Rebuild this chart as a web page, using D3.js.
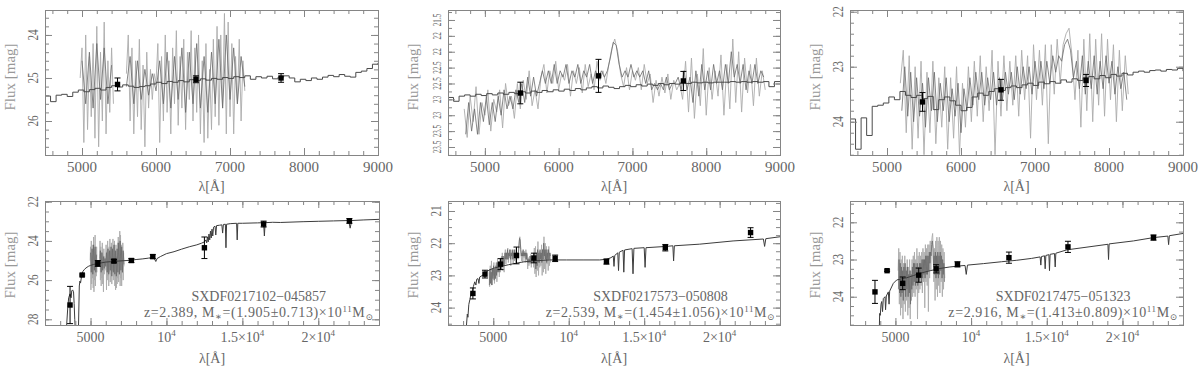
<!DOCTYPE html>
<meta charset="utf-8">
<script src="https://d3js.org/d3.v7.min.js"></script>
<style>
  body { margin: 0; background: #fff; }
  text { font-family: "Liberation Serif", "DejaVu Serif", serif; }
</style>
<div id="my_dataviz"></div>
<script>

// ---- photometry (band centres in Angstrom) ----
var bandLambda = [3650, 4450, 5480, 6540, 7690, 9100, 12500, 16400, 22050];
var mag1 = [27.27, 25.74, 25.15, 25.03, 25.0, 24.8, 24.35, 23.14, 22.98];
var err1 = [0.95, 0.05, 0.15, 0.08, 0.1, 0.1, 0.55, 0.15, 0.12];
var mag2 = [23.56, 22.96, 22.65, 22.38, 22.46, 22.47, 22.57, 22.14, 21.67];
var err2 = [0.17, 0.12, 0.17, 0.26, 0.15, 0.1, 0.08, 0.1, 0.15];
var mag3 = [23.87, 23.3, 23.64, 23.42, 23.25, 23.13, 22.95, 22.66, 22.41];
var err3 = [0.31, 0.02, 0.17, 0.19, 0.11, 0.07, 0.15, 0.15, 0.07];

// ---- observed spectra (mag), sampled on a regular wavelength grid ----
var spec1Start = 4975, spec1Step = 25;
var spec1 = [25.0,24.3,26.5,24.0,26.2,24.5,25.9,24.2,26.4,23.8,
  26.6,24.4,26.0,23.7,26.3,24.6,25.8,24.3,25.6,null,
  null,null,null,null,null,24.9,24.0,26.0,24.3,26.3,
  24.6,25.9,24.1,26.2,24.7,26.6,24.4,25.7,24.8,25.5,
  24.9,25.1,24.2,26.5,24.5,26.0,24.0,25.8,24.6,26.3,
  24.3,25.6,23.9,26.1,24.5,25.7,24.1,26.2,24.4,25.5,
  23.9,26.0,24.3,25.8,24.0,26.3,24.6,26.5,24.2,26.4,
  24.8,26.2,24.1,25.9,23.8,26.1,24.0,25.7,23.5,26.3,
  23.7,25.9,24.2,26.3,24.5,25.6,24.1,26.0,24.6,25.3];
var spec1DarkStart = 5000, spec1DarkStep = 50;
var spec1Dark = [24.6,25.6,24.4,25.7,24.2,25.5,24.3,25.6,24.7,null,
  null,null,25.2,24.5,25.6,24.6,25.5,24.8,25.4,24.9,
  25.3,24.6,25.6,24.4,25.7,24.5,25.5,24.3,25.8,24.4,
  25.6,24.2,25.7,24.5,25.8,24.4,25.6,24.1,25.7,24.0,
  25.5,24.3,25.6,24.5,25.2];

var spec2Start = 4720, spec2Step = 40;
var spec2 = [22.9,23.35,22.7,23.1,22.55,23.3,22.8,23.0,22.6,23.25,
  22.75,22.95,22.6,23.2,22.5,22.85,22.7,23.05,22.5,22.9,
  22.45,22.75,22.3,22.85,22.6,22.9,22.4,22.2,22.65,22.3,
  22.5,22.15,22.6,22.35,22.45,22.2,22.7,22.3,22.5,22.25,
  22.65,22.2,22.55,22.35,22.6,22.15,22.45,22.3,22.5,22.2,
  21.95,21.8,22.0,22.35,22.55,22.25,22.6,22.3,22.45,22.25,
  22.6,22.2,22.5,22.35,22.8,22.45,22.7,22.4,22.65,22.35,
  22.75,22.45,22.6,22.5,22.75,22.15,22.95,22.1,23.05,22.35,
  22.85,21.95,23.0,22.25,22.75,22.3,22.7,22.05,23.0,22.2,
  22.9,21.8,22.8,22.0,22.95,22.1,22.65,22.2,22.85,22.1,
  22.7,22.3,22.6];
var spec2DarkStart = 4740, spec2DarkStep = 40;
var spec2Dark = [23.3,22.8,23.25,22.9,23.3,22.8,23.1,22.7,23.15,22.8,
  23.1,22.7,23.0,22.6,22.9,22.7,22.9,22.6,22.8,22.5,
  22.8,22.4,22.7,22.4,22.7,22.5,22.3,22.5,22.3,22.5,
  22.2,22.5,22.3,22.4,22.2,22.5,22.3,22.4,22.2,22.5,
  22.3,22.4,22.2,22.5,22.3,22.4,22.3,22.4,22.3,22.1,
  21.85,21.9,22.2,22.4,22.3,22.4,22.2,22.4,22.3,22.4,
  22.3,22.5,22.3,22.6,22.5,22.6,22.5,22.6,22.4,22.6,
  22.5,22.5,22.4,22.6,22.3,22.6,22.4,22.8,22.3,22.7,
  22.2,22.6,22.3,22.6,22.2,22.5,22.3,22.6,22.2,22.5,
  22.0,22.4,22.2,22.5,22.2,22.6,22.3,22.5,22.2,22.5,
  22.3,22.4];

var spec3Start = 5180, spec3Step = 40;
var spec3 = [23.3,22.7,24.2,22.8,24.5,23.0,24.3,22.9,24.6,23.1,
  24.2,22.9,24.4,23.2,24.1,23.0,24.5,23.2,24.3,23.0,
  24.6,23.3,24.1,23.0,24.0,22.9,23.9,22.8,24.0,23.0,
  23.8,22.7,24.6,22.9,23.9,22.8,23.8,22.9,23.7,22.8,
  23.9,22.7,23.6,22.8,24.3,22.6,23.6,22.7,23.7,22.6,
  24.4,22.6,23.5,22.5,23.3,22.6,22.4,22.3,22.8,23.6,
  22.7,24.1,22.5,23.8,22.4,24.0,22.5,23.7,22.4,23.9,
  22.5,23.6,22.6,24.0,22.7,23.8,22.8,23.5];
var spec3DarkStart = 5200, spec3DarkStep = 40;
var spec3Dark = [23.8,23.0,23.9,23.1,24.0,23.2,23.9,23.3,24.1,23.2,
  23.8,23.1,24.0,23.3,23.8,23.2,24.0,23.4,23.9,23.3,
  24.2,23.4,23.8,23.2,23.7,23.1,23.6,23.1,23.7,23.2,
  23.6,23.1,23.7,23.2,23.6,23.1,23.5,23.1,23.6,23.0,
  23.5,23.0,23.4,23.0,23.5,22.9,23.4,22.9,23.4,22.9,
  23.3,22.8,23.1,22.8,22.9,22.6,22.5,22.7,23.2,22.9,
  23.4,22.8,23.5,22.9,23.4,22.8,23.5,22.9,23.4,22.8,
  23.3,22.9,23.5,23.0,23.4,23.1,23.6];

// ---- binned best-fit templates shown in the upper panels (75 A bins from 4500 A) ----
var tmplStart = 4500, tmplStep = 75;
var tmpl1 = [25.42,25.55,25.40,25.38,25.43,25.33,25.28,25.32,25.27,25.24,
  25.28,25.22,25.18,25.21,25.16,25.19,25.22,25.20,25.18,25.14,
  25.10,25.13,25.08,25.10,25.06,25.09,25.04,25.06,25.02,25.05,
  25.01,25.03,24.99,25.01,24.97,24.99,24.95,25.03,24.97,25.00,
  24.96,25.02,24.98,24.95,25.00,25.09,25.03,25.06,25.00,25.03,
  24.98,24.94,24.97,24.92,24.96,24.98,24.87,24.84,24.78,24.68,
  24.65];
var tmpl2 = [22.72,22.78,22.70,22.68,22.70,22.67,22.69,22.66,22.68,22.65,
  22.67,22.64,22.66,22.63,22.65,22.62,22.64,22.61,22.63,22.60,
  22.62,22.59,22.61,22.58,22.60,22.57,22.55,22.57,22.54,22.56,
  22.58,22.55,22.53,22.55,22.52,22.54,22.51,22.53,22.50,22.52,
  22.50,22.51,22.49,22.50,22.48,22.49,22.48,22.49,22.48,22.48,
  22.48,22.47,22.48,22.47,22.48,22.47,22.48,22.47,22.55,22.47,
  22.47];
var tmpl3 = [23.95,24.50,23.93,24.25,23.72,23.70,23.66,23.55,23.60,23.45,
  23.52,23.56,23.52,23.58,23.54,23.78,23.60,23.55,23.62,23.70,
  23.80,23.74,23.55,23.48,23.52,23.45,23.40,23.43,23.38,23.35,
  23.38,23.33,23.30,23.34,23.28,23.31,23.27,23.30,23.24,23.28,
  23.22,23.25,23.20,23.18,23.22,23.16,23.20,23.14,23.17,23.12,
  23.15,23.10,23.08,23.10,23.07,23.06,23.08,23.05,23.06,23.03,
  23.08];

// ---- full-resolution model SEDs for the lower panels [lambda, mag] ----
var model1 = [[3400,28.6],[3500,27.4],[3560,26.9],[3650,26.7],[3720,26.9],[3760,26.55],[3820,26.5],[3880,26.6],
  [3920,27.2],[3960,28.0],[4000,28.6],[4200,28.6],[4260,26.3],[4300,26.05],[4340,26.15],[4380,25.95],[4430,25.7],
  [4500,25.55],[4600,25.45],[4700,25.38],[4850,25.3],[5000,25.25],[5200,25.2],[5400,25.17],[5700,25.12],[6000,25.08],
  [6300,25.06],[6600,25.04],[7000,25.02],[7400,25.0],[7700,24.98],[8000,24.95],[8400,24.92],[8800,24.88],[9000,24.85],
  [9200,24.9],[9300,25.05],[9380,24.9],[9600,24.8],[10000,24.65],[10500,24.55],[11000,24.42],[11500,24.3],[12000,24.2],
  [12300,24.12],[12500,24.05],[12600,23.95],[12650,24.1],[12700,23.8],[12750,24.05],[12800,23.65],[12850,23.95],
  [12900,23.5],[12950,23.85],[13000,23.4],[13050,23.75],[13100,23.3],[13200,23.25],[13250,23.7],[13300,23.22],
  [13500,23.2],[13650,23.18],[13700,23.6],[13750,23.16],[13880,23.15],[13920,24.35],[13960,23.15],[14200,23.12],
  [14620,23.1],[14660,23.95],[14700,23.1],[15000,23.1],[16000,23.08],[16400,23.07],[16450,23.75],[16500,23.07],
  [17000,23.05],[17500,23.06],[19000,23.02],[20000,23.0],[21000,22.98],[22000,22.96],[22100,23.35],[22200,22.96],
  [23000,22.93],[24000,22.9]];
var model2 = [[3200,24.7],[3280,24.2],[3320,24.3],[3380,23.9],[3450,23.75],[3550,23.5],[3620,23.55],[3680,23.35],
  [3770,23.2],[3850,23.3],[3900,23.12],[3990,23.1],[4050,23.25],[4100,23.05],[4320,22.99],[4500,22.9],[4760,22.83],
  [5000,22.78],[5430,22.73],[6000,22.67],[6530,22.62],[7000,22.58],[7630,22.55],[8740,22.52],[9850,22.52],
  [10950,22.52],[12050,22.52],[12500,22.5],[12800,22.45],[12950,22.4],[13000,22.72],[13050,22.38],[13250,22.3],
  [13300,22.85],[13350,22.28],[13600,22.22],[13650,22.9],[13700,22.21],[14200,22.17],[14260,22.95],[14320,22.16],
  [15000,22.14],[15060,22.75],[15120,22.14],[16470,22.1],[16900,22.08],[16950,22.55],[17000,22.08],[18680,22.03],
  [20890,21.93],[22900,21.87],[22980,22.1],[23060,21.86],[24000,21.8]];
var model3 = [[3940,24.8],[3960,24.45],[4000,24.5],[4050,24.2],[4095,24.13],[4150,24.4],[4200,24.05],[4314,24.0],
  [4350,24.35],[4400,23.98],[4533,23.87],[4580,24.2],[4620,23.85],[4863,23.64],[5085,23.55],[5400,23.52],
  [5747,23.49],[6200,23.43],[6628,23.37],[7300,23.3],[7951,23.24],[8600,23.2],[9273,23.17],[9600,23.16],
  [9680,23.4],[9760,23.15],[10814,23.11],[12000,23.06],[13020,23.02],[14000,22.97],[14560,22.93],[14608,23.15],
  [14650,22.92],[14850,22.9],[14894,23.25],[14940,22.89],[15140,22.87],[15180,23.3],[15220,22.86],[15510,22.84],
  [15556,23.2],[15600,22.83],[16330,22.74],[19040,22.59],[19081,23.0],[19120,22.58],[20730,22.5],[22060,22.41],
  [23000,22.37],[23049,22.6],[23100,22.36],[24000,22.3]];

// ---- labels ----
var objNames = ["SXDF0217102\u2212045857", "SXDF0217573\u2212050808", "SXDF0217475\u2212051323"];
var objZ = ["2.389", "2.539", "2.916"];
var objMass = ["1.905\u00b10.713", "1.454\u00b11.056", "1.413\u00b10.809"];

var topXTicks = [5000, 6000, 7000, 8000, 9000];
var bottomXTicks = [5000, 10000, 15000, 20000];
var bottomXLabels = [["5000", ""], ["10", "4"], ["1.5\u00d710", "4"], ["2\u00d710", "4"]];

var yTicks1 = [24, 25, 26];
var yTicks2 = [21.5, 21.75, 22, 22.25, 22.5, 22.75, 23, 23.25, 23.5];
var yLabels2 = ["21.5", "22", "22", "22.5", "22.5", "23", "23", "23.5", "23.5"];
var yTicks3 = [22, 23, 24];
var yTicks4 = [22, 24, 26, 28];
var yTicks5 = [21, 22, 23, 24];
var yTicks6 = [22, 23, 24];

function grid(start, step, vals) {
  return vals.map(function(v, i) { return [start + i * step, v]; });
}

var objects = [
  {spec: grid(spec1Start, spec1Step, spec1), dark: grid(spec1DarkStart, spec1DarkStep, spec1Dark),
   tmpl: grid(tmplStart, tmplStep, tmpl1), model: model1, mag: mag1, err: err1},
  {spec: grid(spec2Start, spec2Step, spec2), dark: grid(spec2DarkStart, spec2DarkStep, spec2Dark),
   tmpl: grid(tmplStart, tmplStep, tmpl2), model: model2, mag: mag2, err: err2},
  {spec: grid(spec3Start, spec3Step, spec3), dark: grid(spec3DarkStart, spec3DarkStep, spec3Dark),
   tmpl: grid(tmplStart, tmplStep, tmpl3), model: model3, mag: mag3, err: err3}
];

// panel layout
var panels = [
  {obj: 0, top: true, x0: 45, x1: 378, y0: 10, y1: 155, xDom: [4500, 9000], yDom: [23.42, 26.79], yT: yTicks1, yMinor: 0.2, ylScale: 0.8, ylFont: 14, ylabY: 77},
  {obj: 1, top: true, x0: 448, x1: 780, y0: 10, y1: 155, xDom: [4500, 9000], yDom: [21.343, 23.626], yT: yTicks2, yL: yLabels2, yMinor: 0.125, ylScale: 0.55, ylFont: 13, ylabY: 77},
  {obj: 2, top: true, x0: 850, x1: 1183, y0: 10, y1: 155, xDom: [4500, 9000], yDom: [21.969, 24.605], yT: yTicks3, yMinor: 0.2, ylScale: 0.8, ylFont: 14, ylabY: 77},
  {obj: 0, top: false, x0: 45, x1: 379, y0: 201, y1: 325, xDom: [2000, 24000], yDom: [21.964, 28.29], yT: yTicks4, yMinor: 0.5, ylScale: 0.8, ylFont: 14, ylabY: 265},
  {obj: 1, top: false, x0: 448, x1: 780, y0: 201, y1: 325, xDom: [2000, 24000], yDom: [20.69, 24.54], yT: yTicks5, yMinor: 0.25, ylScale: 0.8, ylFont: 14, ylabY: 265},
  {obj: 2, top: false, x0: 850, x1: 1183, y0: 201, y1: 325, xDom: [2000, 24000], yDom: [21.427, 24.76], yT: yTicks6, yMinor: 0.25, ylScale: 0.8, ylFont: 14, ylabY: 265}
];

var frameColor = "#858585", textColor = "#666";

var svg = d3.select("#my_dataviz")
  .append("svg")
    .attr("width", 1200)
    .attr("height", 369);

function tickAxis(g, axis, vals, len, tr) {
  g.append("g")
    .attr("transform", tr)
    .call(axis.tickValues(vals).tickSize(-len).tickFormat(""))
    .call(function(s) { s.select(".domain").remove(); })
    .selectAll("line").attr("stroke", frameColor);
}

panels.forEach(function(p, k) {
  var o = objects[p.obj];
  var x = d3.scaleLinear().domain(p.xDom).range([p.x0, p.x1]);
  var y = d3.scaleLinear().domain(p.yDom).range([p.y0, p.y1]);
  var g = svg.append("g");

  g.append("clipPath").attr("id", "clip" + k)
    .append("rect").attr("x", p.x0).attr("y", p.y0)
    .attr("width", p.x1 - p.x0).attr("height", p.y1 - p.y0);
  var plot = g.append("g").attr("clip-path", "url(#clip" + k + ")");

  var line = d3.line()
    .defined(function(d) { return d[1] != null; })
    .x(function(d) { return x(d[0]); })
    .y(function(d) { return y(d[1]); });

  // observed spectrum: light then dark
  plot.append("path").datum(o.spec).attr("d", line)
    .attr("fill", "none").attr("stroke", "#ababab").attr("stroke-width", 0.9);
  plot.append("path").datum(o.dark).attr("d", line)
    .attr("fill", "none").attr("stroke", "#6a6a6a").attr("stroke-width", 0.8);

  // model
  if (p.top) {
    plot.append("path").datum(o.tmpl).attr("d", line.curve(d3.curveStepAfter))
      .attr("fill", "none").attr("stroke", "#4a4a4a").attr("stroke-width", 1);
    line.curve(d3.curveLinear);
  } else {
    plot.append("path").datum(o.model).attr("d", line)
      .attr("fill", "none").attr("stroke", "#3c3c3c").attr("stroke-width", 1);
  }

  // photometry
  var phot = bandLambda.map(function(l, i) { return {l: l, m: o.mag[i], e: o.err[i]}; })
    .filter(function(d) { return d.l > p.xDom[0] && d.l < p.xDom[1]; });
  var pg = plot.selectAll(".pt").data(phot).enter().append("g");
  pg.append("line")
    .attr("x1", function(d) { return x(d.l); }).attr("x2", function(d) { return x(d.l); })
    .attr("y1", function(d) { return y(d.m - d.e); }).attr("y2", function(d) { return y(d.m + d.e); })
    .attr("stroke", "#000");
  [-1, 1].forEach(function(s) {
    pg.append("line")
      .attr("x1", function(d) { return x(d.l) - 3; }).attr("x2", function(d) { return x(d.l) + 3; })
      .attr("y1", function(d) { return y(d.m + s * d.e); }).attr("y2", function(d) { return y(d.m + s * d.e); })
      .attr("stroke", "#000");
  });
  pg.append("rect")
    .attr("x", function(d) { return x(d.l) - 2.7; }).attr("y", function(d) { return y(d.m) - 2.7; })
    .attr("width", 5.4).attr("height", 5.4).attr("fill", "#000");

  // ticks on all four sides
  var xMaj = p.top ? topXTicks : bottomXTicks;
  var xMin = p.top ? d3.range(4600, 9000, 200) : d3.range(2000, 24001, 1000);
  var lo = Math.min(p.yDom[0], p.yDom[1]), hi = Math.max(p.yDom[0], p.yDom[1]);
  var yMin = d3.range(Math.ceil(lo / p.yMinor) * p.yMinor, hi, p.yMinor);
  tickAxis(g, d3.axisBottom(x), xMin, 4, "translate(0," + p.y1 + ")");
  tickAxis(g, d3.axisBottom(x), xMaj, 7, "translate(0," + p.y1 + ")");
  tickAxis(g, d3.axisTop(x), xMin, 4, "translate(0," + p.y0 + ")");
  tickAxis(g, d3.axisTop(x), xMaj, 7, "translate(0," + p.y0 + ")");
  tickAxis(g, d3.axisLeft(y), yMin, 4, "translate(" + p.x0 + ",0)");
  tickAxis(g, d3.axisLeft(y), p.yT, 7, "translate(" + p.x0 + ",0)");
  tickAxis(g, d3.axisRight(y), yMin, 4, "translate(" + p.x1 + ",0)");
  tickAxis(g, d3.axisRight(y), p.yT, 7, "translate(" + p.x1 + ",0)");

  g.append("rect")
    .attr("x", p.x0 + 0.5).attr("y", p.y0 + 0.5)
    .attr("width", p.x1 - p.x0).attr("height", p.y1 - p.y0)
    .attr("fill", "none").attr("stroke", frameColor).attr("stroke-width", 1);

  // x tick labels
  xMaj.forEach(function(v, i) {
    var t = g.append("text")
      .attr("x", x(v)).attr("y", p.y1 + 17)
      .attr("text-anchor", "middle")
      .attr("fill", textColor)
      .style("font-size", p.top ? "15px" : "14px");
    if (p.top) {
      t.text(v);
    } else {
      t.append("tspan").text(bottomXLabels[i][0]);
      if (bottomXLabels[i][1]) {
        t.append("tspan").attr("dy", -6).style("font-size", "9px").text(bottomXLabels[i][1]);
      }
    }
  });

  // y tick labels (rotated)
  p.yT.forEach(function(v, i) {
    g.append("text")
      .attr("transform", "translate(" + (p.x0 - 7) + "," + y(v) + ") rotate(-90) scale(" + p.ylScale + ",1)")
      .attr("text-anchor", "middle")
      .attr("fill", textColor)
      .style("font-size", p.ylFont + "px")
      .text(p.yL ? p.yL[i] : v);
  });

  // axis titles
  g.append("text")
    .attr("transform", "translate(" + (p.x0 - 30) + "," + p.ylabY + ") rotate(-90)")
    .attr("text-anchor", "middle")
    .attr("fill", "#999")
    .style("font-size", "15px")
    .text("Flux [mag]");
  g.append("text")
    .attr("x", (p.x0 + p.x1) / 2).attr("y", p.y1 + (p.top ? 36 : 38))
    .attr("text-anchor", "middle")
    .attr("fill", textColor)
    .style("font-size", "14px")
    .text("\u03bb[\u00c5]");

  // object annotation in lower panels
  if (!p.top) {
    var cx = p.x0 + 0.64 * (p.x1 - p.x0);
    g.append("text")
      .attr("x", cx).attr("y", p.y1 - 24)
      .attr("text-anchor", "middle")
      .attr("fill", textColor)
      .style("font-size", "14px")
      .text(objNames[p.obj]);
    var t2 = g.append("text")
      .attr("x", cx).attr("y", p.y1 - 8)
      .attr("text-anchor", "middle")
      .attr("fill", textColor)
      .style("font-size", "14px")
      .style("letter-spacing", "0.6px");
    t2.append("tspan").text("z=" + objZ[p.obj] + ", M");
    t2.append("tspan").attr("dy", 3).style("font-size", "10px").text("\u2217");
    t2.append("tspan").attr("dy", -3).text("=(" + objMass[p.obj] + ")\u00d710");
    t2.append("tspan").attr("dy", -5).style("font-size", "9px").text("11");
    t2.append("tspan").attr("dy", 5).text("M");
    t2.append("tspan").attr("dy", 3).style("font-size", "9px").text("\u2299");
  }
});

</script>
